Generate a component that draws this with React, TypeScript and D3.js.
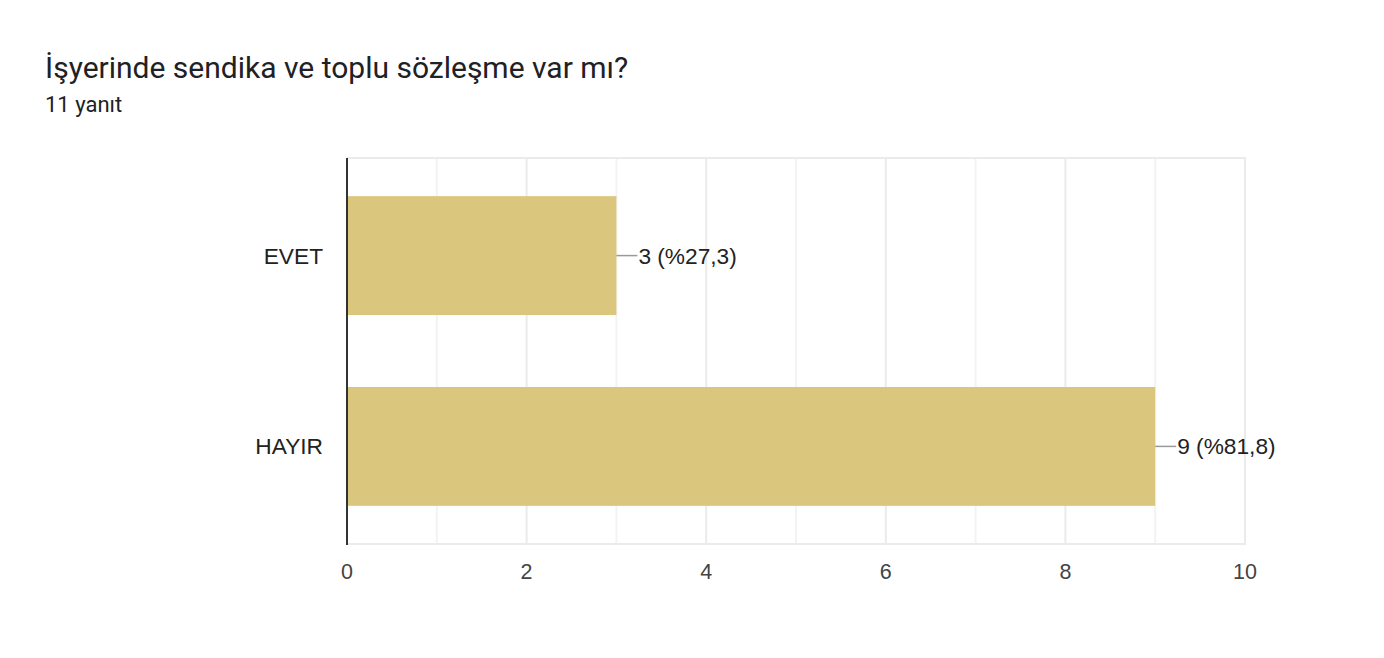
import React from "react";
import * as d3 from "d3";

const categories = ["EVET", "HAYIR"];
const values = [3, 9];
const valueLabels = ["3 (%27,3)", "9 (%81,8)"];
const xTicks = [0, 2, 4, 6, 8, 10];
const title = "İşyerinde sendika ve toplu sözleşme var mı?";
const subtitle = "11 yanıt";

export default function App() {
  const W = 1384, H = 658;
  const left = 347, right = 1245, top = 158, bottom = 544;
  const x = d3.scaleLinear().domain([0, 10]).range([left, right]);
  const y = d3.scaleBand().domain(categories).range([top, bottom]).paddingInner(0.377).paddingOuter(0.2);
  const minor = d3.range(1, 10, 2);
  const font = "Roboto, 'Noto Sans', sans-serif";
  const chartFont = "'Liberation Sans', Arial, sans-serif";
  return (
    <svg width={W} height={H} style={{ position: "absolute", left: 0, top: 0, background: "#fff" }} fontFamily={font}>
      <rect x={0} y={0} width={W} height={H} fill="#fff" />
      <text x={45} y={78} fontSize={30} fill="#202124">{title}</text>
      <text x={45} y={112} fontSize={22} fill="#202124">{subtitle}</text>
      {minor.map((t) => (
        <line key={"m" + t} x1={x(t)} x2={x(t)} y1={top} y2={bottom} stroke="#f3f3f3" strokeWidth={2} />
      ))}
      {xTicks.slice(1).map((t) => (
        <line key={"g" + t} x1={x(t)} x2={x(t)} y1={top} y2={bottom} stroke="#ebebeb" strokeWidth={2} />
      ))}
      <line x1={left} x2={right + 1} y1={top} y2={top} stroke="#ebebeb" strokeWidth={2} />
      <line x1={left} x2={right + 1} y1={bottom} y2={bottom} stroke="#ebebeb" strokeWidth={2} />
      {categories.map((c, i) => {
        const by = y(c)!;
        const bh = y.bandwidth();
        const cy = by + bh / 2;
        return (
          <g key={c}>
            <rect x={x(0)} y={by} width={x(values[i]) - x(0)} height={bh} fill="#dbc67e" />
            <line x1={x(values[i])} x2={x(values[i]) + 21} y1={cy} y2={cy} stroke="#999" strokeWidth={1.5} />
            <text x={x(values[i]) + 22} y={cy} dy="0.35em" fontSize={22.7} fill="#222" fontFamily={chartFont}>{valueLabels[i]}</text>
            <text x={323} y={cy} dy="0.35em" fontSize={22.7} fill="#222" textAnchor="end" fontFamily={chartFont}>{c}</text>
          </g>
        );
      })}
      <line x1={left} x2={left} y1={top} y2={bottom + 1} stroke="#333" strokeWidth={2} />
      {xTicks.map((t) => (
        <text key={"t" + t} x={x(t)} y={571} dy="0.35em" fontSize={21.5} fill="#444" textAnchor="middle" fontFamily={chartFont}>{t}</text>
      ))}
    </svg>
  );
}
